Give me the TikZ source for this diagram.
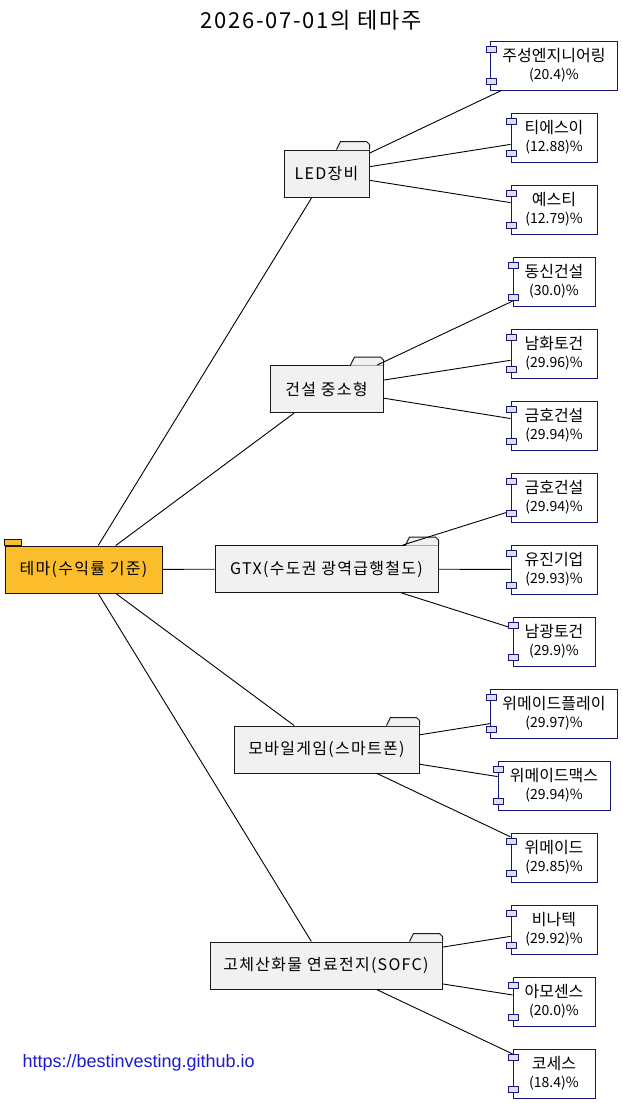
\documentclass[tikz,border=0pt]{standalone}
\usepackage{fontspec}
\setmainfont[LetterSpace=8]{Noto Sans CJK KR}
\newfontfamily\leaffont{Noto Sans CJK KR}
\newfontfamily\urlfont{Liberation Sans}
\usetikzlibrary{positioning}
\definecolor{rootfill}{RGB}{251,189,44}
\definecolor{thmfill}{RGB}{241,241,241}
\definecolor{boxline}{RGB}{24,24,24}
\definecolor{leafline}{RGB}{22,22,122}
\definecolor{portfill}{RGB}{222,222,240}
\definecolor{urlclr}{RGB}{28,28,204}
\newcommand{\pct}[1]{{\fontsize{14}{18}\selectfont(#1)\%}}
\tikzset{
  rootbox/.style={rectangle,draw=boxline,fill=rootfill,line width=1pt,
    minimum width=157pt,minimum height=47pt,inner sep=0pt,
    font=\fontsize{16}{19}\selectfont},
  thmbox/.style={rootbox,fill=thmfill},
  leafbox/.style={rectangle,draw=leafline,fill=white,line width=1pt,
    minimum height=49pt,inner sep=0pt,align=center,
    font=\leaffont\fontsize{16}{18}\selectfont},
  port/.style={draw=leafline,fill=portfill,line width=0.8pt},
  lnk/.style={draw=black,line width=0.9pt},
  thmtab/.pic={
    \fill[thmfill] (-32.5,0.6) -- (-32.5,0) -- (-29,-8) -- (-3,-8)
      -- (-0.5,-4.7) -- (-0.5,0.6) -- cycle;
    \draw[boxline,line width=1pt] (-33,0) -- (-29,-8) -- (-3,-8)
      -- (0,-5) -- (0,0);
  },
}
\begin{document}
\begin{tikzpicture}[x=1pt,y=-1pt]
  \useasboundingbox[fill=white] (0,0) rectangle (623,1103);

  \node[font=\fontsize{22}{26}\selectfont] (ttl) at (311,20)
    {2026-07-01의 테마주};

  % root and themes
  \node[rootbox] (root) at (83.5,569.5) {테마(수익률 기준)};
  \draw[boxline,fill=rootfill,line width=1pt] (root.north west)
    rectangle ++(17,-6);
  \node[thmbox,minimum width=85pt]  (led)  at (326.5,173.5) {LED장비};
  \node[thmbox,minimum width=113pt] (cons) at (326.5,389)   {건설 중소형};
  \node[thmbox,minimum width=223pt] (gtx)  at (326.5,569)   {GTX(수도권 광역급행철도)};
  \node[thmbox,minimum width=185pt] (mob)  at (326.5,749.5) {모바일게임(스마트폰)};
  \node[thmbox,minimum width=232pt] (sofc) at (326,965.5)   {고체산화물 연료전지(SOFC)};
  \pic at (led.north east)  {thmtab};
  \pic at (cons.north east) {thmtab};
  \pic at (gtx.north east)  {thmtab};
  \pic at (mob.north east)  {thmtab};
  \pic at (sofc.north east) {thmtab};

  % stocks
  \node[leafbox,minimum width=127pt] (js)  at (554,65.5)        {주성엔지니어링\\\pct{20.4}};
  \node[leafbox,minimum width=86pt]  (tes) [below=22pt of js]   {티에스이\\\pct{12.88}};
  \node[leafbox,minimum width=86pt]  (ys)  [below=22pt of tes]  {예스티\\\pct{12.79}};
  \node[leafbox,minimum width=82pt]  (ds)  [below=22pt of ys]   {동신건설\\\pct{30.0}};
  \node[leafbox,minimum width=86pt]  (nh)  [below=22pt of ds]   {남화토건\\\pct{29.96}};
  \node[leafbox,minimum width=86pt]  (kh1) [below=22pt of nh]   {금호건설\\\pct{29.94}};
  \node[leafbox,minimum width=86pt]  (kh2) [below=22pt of kh1]  {금호건설\\\pct{29.94}};
  \node[leafbox,minimum width=86pt]  (yj)  [below=22pt of kh2]  {유진기업\\\pct{29.93}};
  \node[leafbox,minimum width=82pt]  (ng)  [below=22pt of yj]   {남광토건\\\pct{29.9}};
  \node[leafbox,minimum width=127pt] (wmp) [below=22pt of ng]   {위메이드플레이\\\pct{29.97}};
  \node[leafbox,minimum width=112pt] (wmm) [below=22pt of wmp]  {위메이드맥스\\\pct{29.94}};
  \node[leafbox,minimum width=86pt]  (wm)  [below=22pt of wmm]  {위메이드\\\pct{29.85}};
  \node[leafbox,minimum width=86pt]  (vn)  [below=22pt of wm]   {비나텍\\\pct{29.92}};
  \node[leafbox,minimum width=82pt]  (am)  [below=22pt of vn]   {아모센스\\\pct{20.0}};
  \node[leafbox,minimum width=82pt]  (ks)  [below=22pt of am]   {코세스\\\pct{18.4}};

  \draw[lnk] (root) -- (led);
  \draw[lnk] (root) -- (cons);
  \draw[lnk] (root) -- (gtx);
  \draw[lnk] (root) -- (mob);
  \draw[lnk] (root) -- (sofc);
  \draw[lnk] (led) -- (js);
  \draw[lnk] (led) -- (tes);
  \draw[lnk] (led) -- (ys);
  \draw[lnk] (cons) -- (ds);
  \draw[lnk] (cons) -- (nh);
  \draw[lnk] (cons) -- (kh1);
  \draw[lnk] (gtx) -- (kh2);
  \draw[lnk] (gtx) -- (yj);
  \draw[lnk] (gtx) -- (ng);
  \draw[lnk] (mob) -- (wmp);
  \draw[lnk] (mob) -- (wmm);
  \draw[lnk] (mob) -- (wm);
  \draw[lnk] (sofc) -- (vn);
  \draw[lnk] (sofc) -- (am);
  \draw[lnk] (sofc) -- (ks);

  % component ports
  \foreach \s in {js,tes,ys,ds,nh,kh1,kh2,yj,ng,wmp,wmm,wm,vn,am,ks}{
    \draw[port] ([xshift=-4pt,yshift=-6pt]\s.north west) rectangle ++(10,6);
    \draw[port] ([xshift=-4pt,yshift=6pt]\s.south west) rectangle ++(10,-6);
  }

  \node[font=\urlfont\fontsize{18}{21}\selectfont,text=urlclr,anchor=west]
    (url) at (19,1063) {https://bestinvesting.github.io};
\end{tikzpicture}
\end{document}
